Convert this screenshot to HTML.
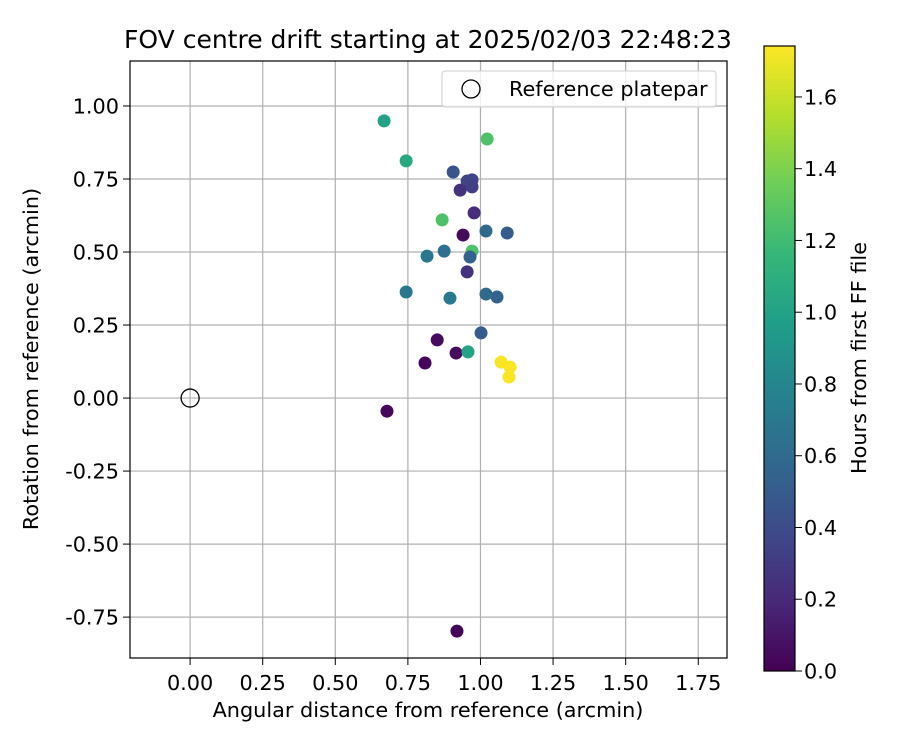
<!DOCTYPE html>
<html><head><meta charset="utf-8"><style>body{margin:0;background:#fff}svg{display:block;font-family:"DejaVu Sans","Liberation Sans",sans-serif}</style></head>
<body>
<svg id="c" width="900" height="750"></svg>
<script>
const xs=[0.668,1.023,0.744,0.906,0.954,0.971,0.971,0.930,0.978,0.868,1.019,1.092,0.940,0.875,0.971,0.964,0.816,0.954,0.744,0.895,1.019,1.057,1.002,0.851,0.916,0.957,0.809,1.071,1.102,1.098,0.678,0.919];
const ys=[0.949,0.887,0.812,0.774,0.743,0.747,0.723,0.712,0.634,0.610,0.572,0.565,0.558,0.503,0.503,0.483,0.486,0.432,0.363,0.342,0.356,0.346,0.223,0.199,0.154,0.158,0.120,0.123,0.106,0.072,-0.045,-0.798];
const hrs=[1.0,1.25,1.05,0.45,0.35,0.35,0.33,0.25,0.22,1.25,0.6,0.5,0.05,0.65,1.25,0.55,0.7,0.25,0.7,0.7,0.6,0.55,0.5,0.05,0.05,1.0,0.03,1.73,1.73,1.73,0.03,0.02];
const xticks=[0,0.25,0.5,0.75,1.0,1.25,1.5,1.75];
const yticks=[-0.75,-0.5,-0.25,0,0.25,0.5,0.75,1.0];
const cticks=[0,0.2,0.4,0.6,0.8,1.0,1.2,1.4,1.6];
const L=130,R=727,T=61,B=658,X0=-0.207,X1=1.849,Y0=-0.890,Y1=1.154,CMAX=1.742;
const FS=20.8;
const sx=v=>L+(v-X0)/(X1-X0)*(R-L), sy=v=>B-(v-Y0)/(Y1-Y0)*(B-T);
const vir=[[68,1,84],[72,40,120],[62,74,137],[49,104,142],[38,130,142],[31,158,137],[53,183,121],[109,205,89],[180,222,44],[253,231,37]];
function cmap(t){t=Math.max(0,Math.min(1,t))*9;const i=Math.min(8,Math.floor(t)),f=t-i;const a=vir[i],b=vir[i+1];return`rgb(${a.map((v,k)=>Math.round(v+(b[k]-v)*f)).join(',')})`;}
const svg=document.getElementById('c');const NS='http://www.w3.org/2000/svg';
function el(t,a,p){const e=document.createElementNS(NS,t);for(const k in a)e.setAttribute(k,a[k]);(p||svg).appendChild(e);return e;}
function tx(s,a){const e=el('text',Object.assign({'font-size':FS,fill:'#000'},a));e.textContent=s;return e;}
const g=el('g',{});
xticks.forEach(v=>{const x=sx(v);el('line',{x1:x,x2:x,y1:T,y2:B,stroke:'#b0b0b0','stroke-width':1.2},g);el('line',{x1:x,x2:x,y1:B,y2:B+7,stroke:'#000'},g);
 const t=tx(v.toFixed(2),{x:x,y:B+32,'text-anchor':'middle'});});
yticks.forEach(v=>{const y=sy(v);el('line',{x1:L,x2:R,y1:y,y2:y,stroke:'#b0b0b0','stroke-width':1.2},g);el('line',{x1:L-7,x2:L,y1:y,y2:y,stroke:'#000'},g);
 const t=tx(v.toFixed(2),{x:L-11,y:y+7.5,'text-anchor':'end'});});
const ref=el('circle',{cx:sx(0),cy:sy(0),r:9,fill:'none',stroke:'#000','stroke-width':1.3});

xs.forEach((v,i)=>{const c=el('circle',{cx:sx(v),cy:sy(ys[i]),r:6.5,fill:cmap(hrs[i]/CMAX)});
 });
el('rect',{x:L,y:T,width:R-L,height:B-T,fill:'none',stroke:'#000','stroke-width':1.2});
const lg=el('g',{});
el('rect',{x:442,y:71,width:274,height:36,rx:3,fill:'#fff','fill-opacity':0.8,stroke:'#ccc'},lg);
el('circle',{cx:471,cy:89,r:9,fill:'none',stroke:'#000','stroke-width':1.3},lg);
tx('Reference platepar',{x:509,y:96});
const tt=tx('FOV centre drift starting at 2025/02/03 22:48:23',{x:428,y:48,'text-anchor':'middle','font-size':25});

const xl=tx('Angular distance from reference (arcmin)',{x:428,y:717,'text-anchor':'middle'});

const yl=tx('Rotation from reference (arcmin)',{x:0,y:0,'text-anchor':'middle',transform:'translate(38,359) rotate(-90)'});

const CL=764,CR=795,CT=46,CB=671;
const defs=el('defs',{});const gr=el('linearGradient',{id:'vg',x1:0,y1:1,x2:0,y2:0},defs);
vir.forEach((c,i)=>el('stop',{offset:i/9,'stop-color':`rgb(${c})`},gr));
const cb=el('rect',{x:CL,y:CT,width:CR-CL,height:CB-CT,fill:'url(#vg)',stroke:'#000','stroke-width':1.2});

cticks.forEach(v=>{const y=CB-v/CMAX*(CB-CT);el('line',{x1:CR,x2:CR+7,y1:y,y2:y,stroke:'#000'});
 const t=tx(v.toFixed(1),{x:CR+9,y:y+7.5});});
const cl=tx('Hours from first FF file',{x:0,y:0,'text-anchor':'middle',transform:'translate(866,358) rotate(-90)'});

</script>
</body></html>
